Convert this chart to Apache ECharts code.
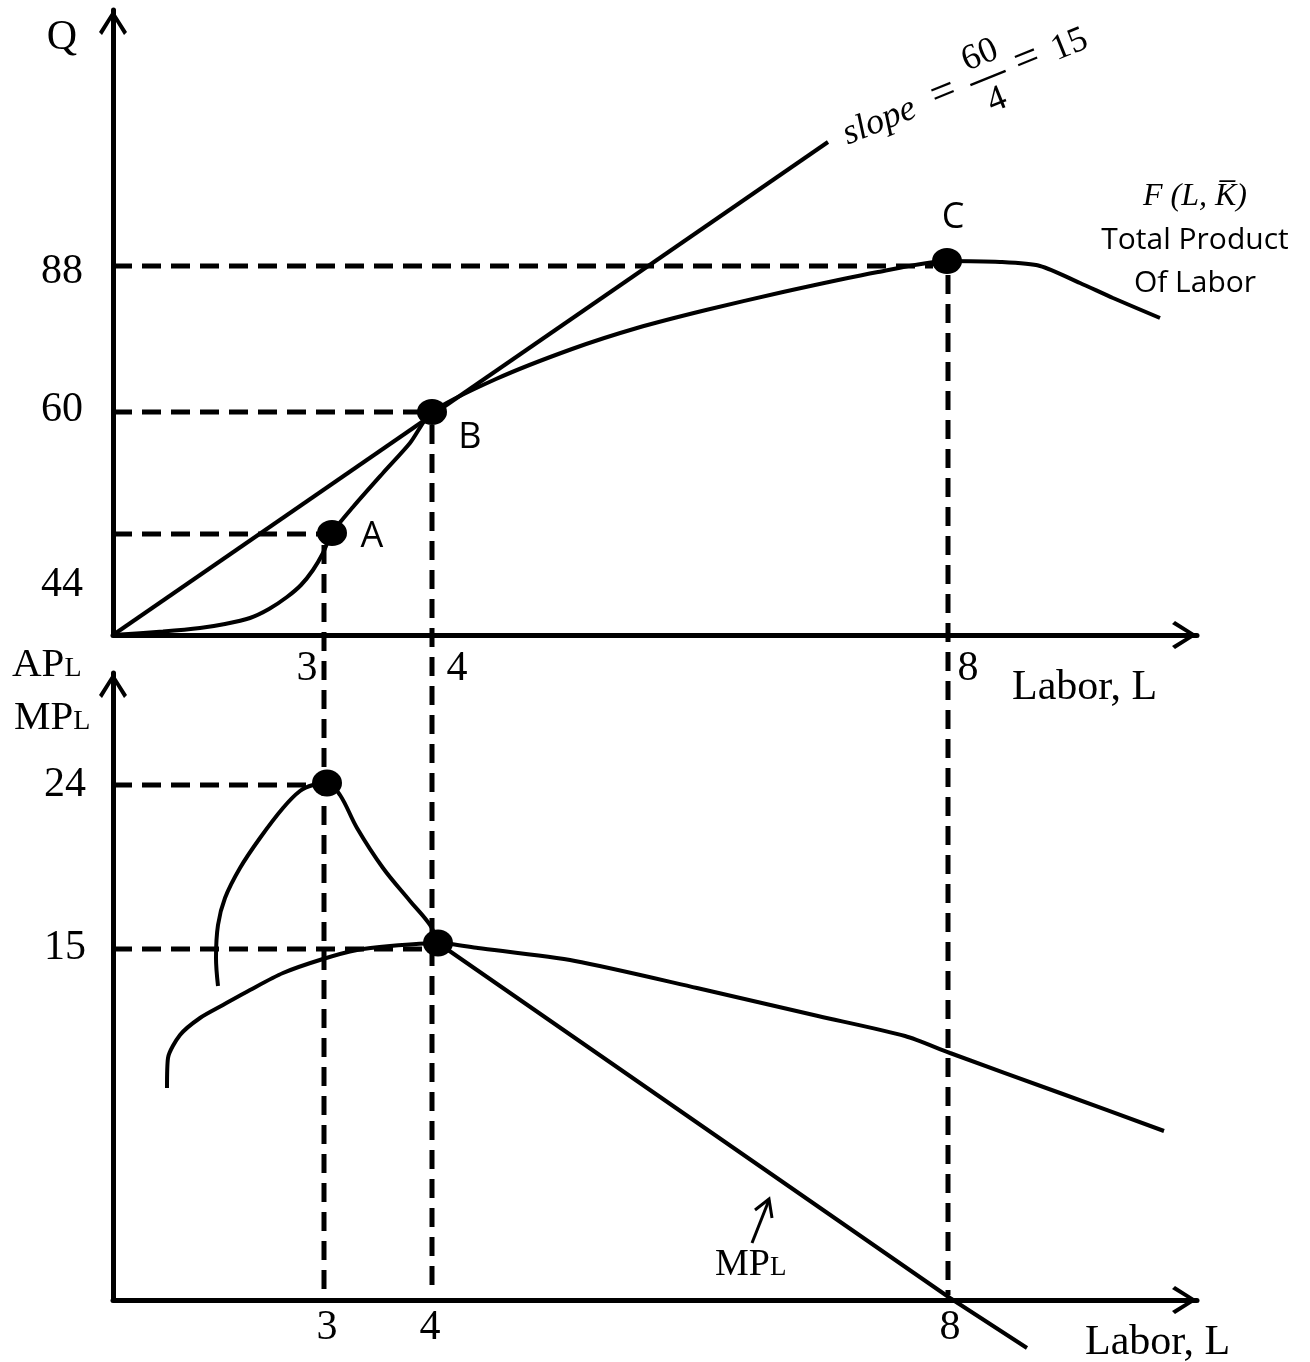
<!DOCTYPE html>
<html>
<head>
<meta charset="utf-8">
<script src="https://cdn.jsdelivr.net/npm/echarts@6.0.0/dist/echarts.min.js"></script>
<style>html,body{margin:0;padding:0;background:#fff;}#chart{width:1310px;height:1362px;}</style>
</head>
<body>
<div id="chart"></div>
<script>
// Schematic diagram: values are positions along each drawn axis (chart units).
// ---------- Top panel: Total Product of Labor ----------
const totalProduct = [[0,0],[5.0,0.35],[8.7,0.7],[11.2,1.1],[13.7,1.7],[15.6,2.6],[17.4,3.8],[18.8,5.0],[20.0,6.5],[21.0,8.2],[21.9,10.2],[24.0,12.8],[27.0,16.2],[29.7,19.2],[31.9,22.3],[38.3,25.6],[45.9,28.6],[52.4,30.7],[59.3,32.5],[67.0,34.3],[76.5,36.3],[83.4,37.4],[88.7,37.3],[92.7,36.9],[96.7,35.2],[100.0,33.7],[104.7,31.7]];
const tangentRay = [[0,0],[71.5,49.3]];
const tpPointNames = ['A','B','C'];
const tpPoints = [[21.9,10.2],[31.9,22.3],[83.4,37.4]];
const qTickLabels = ['88','60','44'];
const qTickPos = [36.3,22.5,5.0];
const qGuideLevels = [36.9,22.3,10.1];
const qGuideEnds = [82.0,31.0,21.0];
const lTickLabels = ['3','4','8'];
const lTickPosTop = [19.4,34.4,85.5];
const lGuidePos = [21.1,31.9,83.5];
const lGuideStarts = [9.0,21.0,36.0];
const lGuideBottom = -66.0;
// ---------- Bottom panel: AP_L and MP_L ----------
const mpCurve = [[10.5,31.4],[10.3,34.2],[10.5,37.5],[11.2,40.2],[12.7,43.2],[14.7,46.2],[17.0,49.2],[18.7,50.9],[20.0,51.5],[21.4,51.7],[22.7,50.5],[24.4,47.2],[27.0,43.2],[29.7,39.9],[31.7,37.5],[32.5,35.7]];
const mpLinear = [[32.5,35.7],[83.7,0.2],[91.4,-4.8]];
const apCurve = [[5.4,21.2],[5.5,24.2],[6.7,26.5],[8.7,28.2],[11.0,29.5],[13.7,31.0],[17.0,32.7],[21.0,34.1],[24.4,35.0],[27.7,35.4],[32.5,35.7],[36.5,35.2],[46.2,33.9],[58.4,31.2],[70.5,28.4],[79.2,26.4],[83.7,24.7],[94.7,20.7],[105.1,16.9]];
const lowerPoints = [[21.4,51.7],[32.5,35.7]];
const apmpTickLabels = ['24','15'];
const apmpTickPos = [51.5,35.2];
const apmpGuideLevels = [51.5,35.1];
const apmpGuideEnds = [20.5,31.7];
const lTickPosBottom = [21.4,31.7,83.7];

const SERIF = 'Liberation Serif';
const SANS = 'Open Sans';
const arrowPath = 'path://M14,0 L28,22 L25,25 L14,7 L3,25 L0,22 Z';
function axisLine() {
  return { show: true, onZero: false, lineStyle: { color: '#000', width: 5 },
           symbol: ['none', arrowPath], symbolSize: [28, 25], symbolOffset: [0, -12.5] };
}
const dash = { color: '#000', width: 5, type: [19, 10] };
const solid = { color: '#000', width: 4 };

function lineSeries(data, xi, style, smooth) {
  return { type: 'line', xAxisIndex: xi, yAxisIndex: xi, data: data, symbol: 'none',
           smooth: smooth || false, clip: false, lineStyle: style, silent: true, z: style === dash ? 2 : 3 };
}

const series = [];
qGuideLevels.forEach((lv, i) => series.push(lineSeries([[0, lv], [qGuideEnds[i], lv]], 0, dash)));
lGuidePos.forEach((x, i) => series.push(lineSeries([[x, lGuideStarts[i]], [x, lGuideBottom]], 0, dash)));
apmpGuideLevels.forEach((lv, i) => series.push(lineSeries([[0, lv], [apmpGuideEnds[i], lv]], 1, dash)));
series.push(lineSeries(totalProduct, 0, solid, 0.25));
series.push(lineSeries(tangentRay, 0, solid));
series.push(lineSeries(mpCurve, 1, solid, 0.35));
series.push(lineSeries(mpLinear, 1, solid));
series.push(lineSeries(apCurve, 1, solid, 0.25));
const tpLabelOffsets = [[40, 4], [38, 26], [6, -43]];
series.push({
  type: 'scatter', xAxisIndex: 0, yAxisIndex: 0, symbolSize: [30, 26], itemStyle: { color: '#000', opacity: 1 }, z: 5,
  data: tpPoints.map((p, i) => ({ value: p, name: tpPointNames[i], label: { offset: tpLabelOffsets[i] } })),
  label: { show: true, position: 'inside', formatter: '{b}', color: '#000', opacity: 1, fontFamily: SANS, fontSize: 36 }
});
series.push({
  type: 'scatter', xAxisIndex: 1, yAxisIndex: 1, symbolSize: [30, 27], itemStyle: { color: '#000', opacity: 1 }, z: 5,
  data: lowerPoints
});

function xAxis(gi, pos, margin) {
  return { type: 'value', gridIndex: gi, min: 0, max: 108.4, splitLine: { show: false }, axisTick: { show: false },
    axisLine: axisLine(),
    axisLabel: { customValues: pos, margin: margin, color: '#000', fontFamily: SERIF, fontSize: 42,
                 formatter: v => lTickLabels[pos.indexOf(v)] } };
}
function yAxis(gi, max, pos, labels, margin) {
  return { type: 'value', gridIndex: gi, min: 0, max: max, splitLine: { show: false }, axisTick: { show: false },
    axisLine: axisLine(),
    axisLabel: { customValues: pos, margin: margin, color: '#000', fontFamily: SERIF, fontSize: 42,
                 formatter: v => labels[pos.indexOf(v)] } };
}

const txt = (x, y, text, extra) => ({ type: 'text', x: x, y: y, silent: true,
  style: Object.assign({ text: text, fill: '#000', fontFamily: SERIF, fontSize: 42, align: 'center', verticalAlign: 'middle' }, extra || {}) });
const richSub = (big, small) => ({
  a: { fontFamily: SERIF, fontSize: big, fill: '#000', verticalAlign: 'bottom' },
  b: { fontFamily: SERIF, fontSize: small, fill: '#000', verticalAlign: 'bottom', padding: [0, 0, 3, 0] }
});

const graphic = [
  txt(62, 38, 'Q'),
  txt(1012, 688, 'Labor, L', { align: 'left' }),
  txt(1085, 1343, 'Labor, L', { align: 'left' }),
  { type: 'text', x: 12, y: 665, silent: true, style: { text: '{a|AP}{b|L}', rich: richSub(41, 28), align: 'left', verticalAlign: 'middle' } },
  { type: 'text', x: 14, y: 718, silent: true, style: { text: '{a|MP}{b|L}', rich: richSub(41, 28), align: 'left', verticalAlign: 'middle' } },
  { type: 'text', x: 715, y: 1265, silent: true, style: { text: '{a|MP}{b|L}', rich: richSub(38, 27), align: 'left', verticalAlign: 'middle' } },
  { type: 'polyline', silent: true, shape: { points: [[752, 1243], [769, 1200]] }, style: { stroke: '#000', lineWidth: 3, fill: null } },
  { type: 'polyline', silent: true, shape: { points: [[755, 1210], [769, 1199], [772, 1218]] }, style: { stroke: '#000', lineWidth: 3, fill: null } },
  txt(1195, 197, 'F (L, K\u0305)', { fontStyle: 'italic', fontSize: 32 }),
  txt(1195, 240, 'Total Product', { fontFamily: SANS, fontSize: 30 }),
  txt(1195, 283, 'Of Labor', { fontFamily: SANS, fontSize: 30 }),
  { type: 'group', x: 988, y: 78, rotation: 22 * Math.PI / 180, silent: true, children: [
      txt(-155, 0, 'slope', { fontStyle: 'italic', fontSize: 36, align: 'left' }),
      txt(-47, -2, '=', { fontSize: 44 }),
      { type: 'line', shape: { x1: -19, y1: 0, x2: 19, y2: 0 }, style: { stroke: '#000', lineWidth: 2.5 } },
      txt(1, -24, '60', { fontSize: 36 }),
      txt(0, 24, '4', { fontSize: 36 }),
      txt(43, -2, '=', { fontSize: 44 }),
      txt(88, 0, '15', { fontSize: 36 })
  ] }
];

const chart = echarts.init(document.getElementById('chart'), null, { renderer: 'canvas' });
chart.setOption({
  animation: false,
  backgroundColor: '#fff',
  grid: [
    { left: 113, top: 10, width: 1084, height: 625 },
    { left: 113, top: 673, width: 1084, height: 627 }
  ],
  xAxis: [xAxis(0, lTickPosTop, 13), xAxis(1, lTickPosBottom, 7)],
  yAxis: [yAxis(0, 62.5, qTickPos, qTickLabels, 30), yAxis(1, 62.7, apmpTickPos, apmpTickLabels, 27)],
  series: series,
  graphic: graphic
});
</script>
</body>
</html>
